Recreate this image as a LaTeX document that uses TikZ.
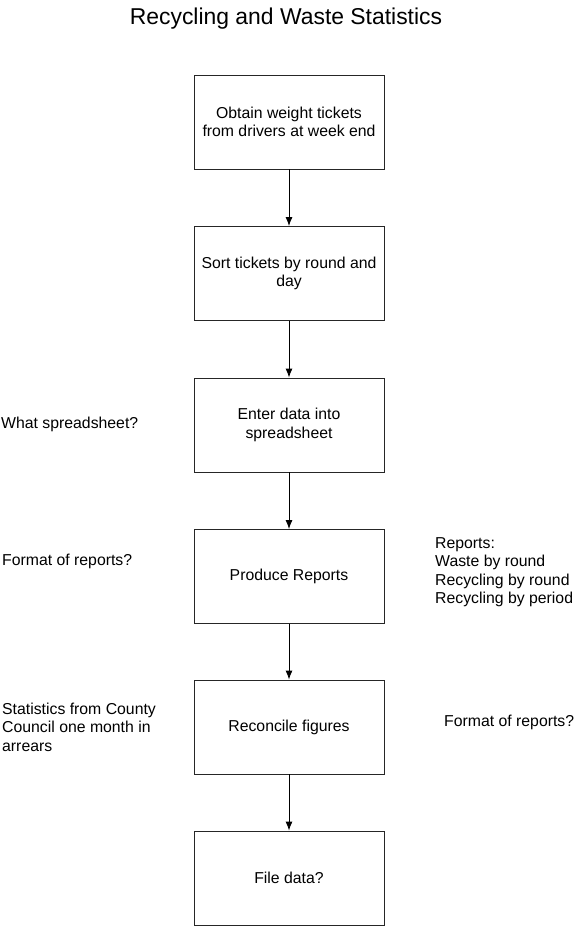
\documentclass[tikz,border=0pt]{standalone}
\usepackage{fontspec}
\setmainfont{Liberation Sans}
\usetikzlibrary{arrows.meta}
\begin{document}
\begin{tikzpicture}[x=1pt,y=-1pt,
  stepbox/.style={draw=black!85,line width=0.9pt,minimum width=190pt,minimum height=94pt,inner sep=0pt,align=center,font=\fontsize{15.8}{18.5}\selectfont},
  note/.style={inner sep=0pt,align=left,font=\fontsize{15.8}{18.5}\selectfont},
  conn/.style={line width=0.9pt,-{Latex[length=9pt,width=7pt]}}]
\useasboundingbox (0,0) rectangle (576,927);
\node[font=\fontsize{22.9}{26}\selectfont,inner sep=0pt] (title) at (286,19) {Recycling and Waste Statistics};
\node[stepbox] (b1) at (289,122) {Obtain weight tickets\\from drivers at week end};
\node[stepbox] (b2) at (289,273.5) {Sort tickets by round and\\day};
\node[stepbox] (b3) at (289,425) {Enter data into\\spreadsheet};
\node[stepbox] (b4) at (289,576.5) {Produce Reports};
\node[stepbox] (b5) at (289,727) {Reconcile figures};
\node[stepbox] (b6) at (289,878) {File data?};
\draw[conn] (b1) -- (b2);
\draw[conn] (b2) -- (b3);
\draw[conn] (b3) -- (b4);
\draw[conn] (b4) -- (b5);
\draw[conn] (b5) -- (b6);
\node[note,anchor=west] (n1) at (1,424) {What spreadsheet?};
\node[note,anchor=west] (n2) at (2,561) {Format of reports?};
\node[note,anchor=west] (n3) at (2,727) {Statistics from County\\Council one month in\\arrears};
\node[note,anchor=west] (n4) at (435,572) {Reports:\\Waste by round\\Recycling by round\\Recycling by period};
\node[note,anchor=west] (n5) at (444,722) {Format of reports?};
\end{tikzpicture}
\end{document}
